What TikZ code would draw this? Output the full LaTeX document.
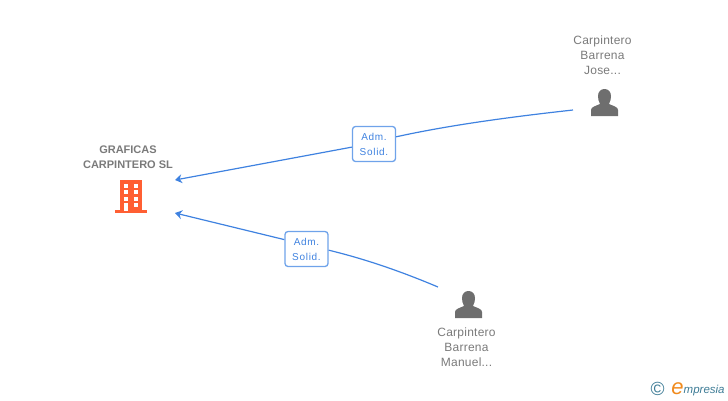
\documentclass[tikz,border=0pt]{standalone}
\usepackage{fontspec}
\setmainfont{Liberation Sans}
\newfontfamily\admfont[LetterSpace=7]{Liberation Sans}
\newfontfamily\namefont[LetterSpace=2]{Liberation Sans}
\usetikzlibrary{arrows.meta}
\definecolor{linkblue}{HTML}{3F82E0}
\definecolor{boxblue}{HTML}{6FA3EA}
\definecolor{namegray}{HTML}{7A7A7A}
\definecolor{icongray}{HTML}{6E6E6E}
\definecolor{firmorange}{HTML}{FF5F33}
\definecolor{logoteal}{HTML}{3E7C96}
\definecolor{logoorange}{HTML}{F08A1D}
\tikzset{
	link/.style={linkblue, line width=1.2pt},
	linktip/.style={link, -{Stealth[length=7pt,width=9pt]}},
	admbox/.style={draw=boxblue, line width=1.3pt, fill=white, rounded corners=3pt, minimum width=43pt, minimum height=35pt, inner sep=0pt, align=center, text=linkblue, font=\admfont\fontsize{10}{15}\selectfont},
	person/.style={inner sep=0pt, align=center, text=namegray, font=\namefont\fontsize{12}{15}\selectfont},
	firm/.style={inner sep=0pt, align=center, text=namegray, font=\bfseries\fontsize{11}{15}\selectfont},
	personicon/.pic={
		\fill [icongray] (-13.5,27) -- (-13.5,21) .. controls (-13.5,18) and (-9,17) .. (-4.5,15)
			.. controls (-6,12) and (-6.5,10) .. (-6.5,7) .. controls (-6.5,2.5) and (-3.5,0) .. (0,0)
			.. controls (3.5,0) and (6.5,2.5) .. (6.5,7) .. controls (6.5,10) and (6,12) .. (4.5,15)
			.. controls (9,17) and (13.5,18) .. (13.5,21) -- (13.5,27) -- cycle;
	},
	firmicon/.pic={
		\fill [firmorange] (-11,0) rectangle (11,31);
		\fill [firmorange] (-16,30) rectangle (16,33.5);
		\foreach \yy in {4,10.5,17} {
			\fill [white] (-7.2,\yy) rectangle (-2.7,\yy+4);
			\fill [white] (2.7,\yy) rectangle (7.2,\yy+4);
		}
		\fill [white] (-7.2,23.3) rectangle (-2.7,31);
		\fill [white] (2.7,23.3) rectangle (7.2,27.8);
	},
}
\begin{document}
\begin{tikzpicture}[x=1pt, y=-1pt]
	\useasboundingbox (0,0) rectangle (728,400);
	\node [firm] (grafica) at (128,157.5) {GRAFICAS\\CARPINTERO SL};
	\pic at (131,179.5) {firmicon};
	\node [person] (jose) at (602.5,55) {Carpintero\\Barrena\\Jose...};
	\pic at (604.5,89) {personicon};
	\node [person] (manuel) at (466.5,347) {Carpintero\\Barrena\\Manuel...};
	\pic at (468.5,291) {personicon};
	\coordinate (josefoot) at (573,110);
	\coordinate (manuelfoot) at (438,287);
	\coordinate (upperend) at (175,180);
	\coordinate (lowerend) at (175,213);
	\node [admbox] (admjose) at (374,144) {Adm.\\Solid.};
	\node [admbox] (admmanuel) at (306.5,249) {Adm.\\Solid.};
	\draw [link] (josefoot) .. controls (510,117) and (450,125) .. (admjose.18);
	\draw [linktip] (admjose.188) -- (upperend);
	\draw [link] (manuelfoot) .. controls (400,271) and (365,259) .. (admmanuel.357);
	\draw [linktip] (admmanuel.157) -- (lowerend);
	\node [inner sep=0pt, text=logoteal, font=\fontsize{19}{19}\selectfont] (copyr) at (657.5,389) {©};
	\node [inner sep=0pt, anchor=base, text=logoorange, font=\itshape\fontsize{22}{22}\selectfont] (logoe) at (677.5,394) {e};
	\node [inner sep=0pt, anchor=base west, text=logoteal, font=\itshape\fontsize{11.5}{14}\selectfont] (logotext) at (683.5,393.5) {mpresia};
\end{tikzpicture}
\end{document}
